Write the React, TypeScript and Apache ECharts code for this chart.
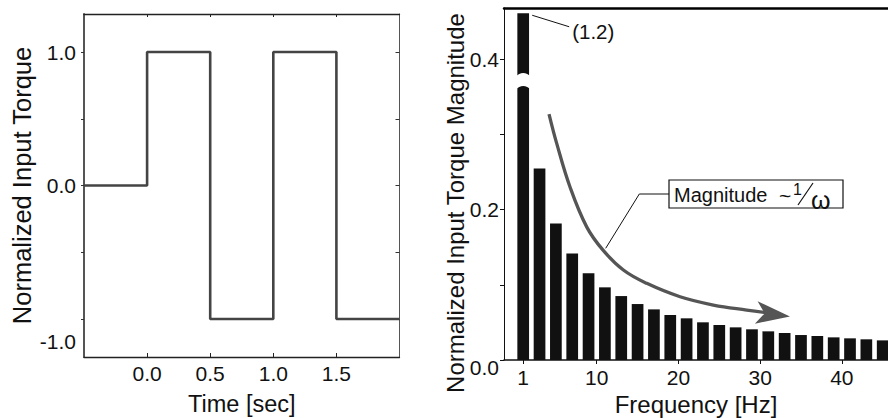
import React, { useEffect, useRef } from 'react';
import * as echarts from 'echarts';

// ---- Left panel: square-wave input torque ----
const timeSec = [-0.5, 0.0, 0.5, 1.0, 1.5, 2.0];
const torque = [0, 1, -1, 1, -1, -1];
const timeTicks = [0, 0.5, 1.0, 1.5];
const torqueTicks = [-1, -0.5, 0, 0.5, 1];
const torqueLabelPos = [1.0, 0.0, -1.17];
const torqueLabelText = ['1.0', '0.0', '-1.0'];

// ---- Right panel: spectrum magnitude ----
const freqHz = [1, 3, 5, 7, 9, 11, 13, 15, 17, 19, 21, 23, 25, 27, 29, 31, 33, 35, 37, 39, 41, 43, 45];
const magnitude = [1.2, 0.2547, 0.1816, 0.1417, 0.1152, 0.0966, 0.085, 0.0744, 0.0673, 0.0598, 0.0554, 0.0501,
  0.0465, 0.0434, 0.0408, 0.0381, 0.0359, 0.0332, 0.0319, 0.0301, 0.0288, 0.0275, 0.0261];
const magnitudeCap = 0.461; // drawn height of the broken first bar
const breakLevel = 0.369; // where the first bar is broken
const freqTicks = [1, 10, 20, 30, 40];
const magTicks = [0, 0.1, 0.2, 0.3, 0.4];
const magLabels = [0, 0.2, 0.4];
const trendX = [4.16, 5.1, 6.73, 8.77, 10.77, 13.26, 16.12, 20.2, 24.27, 28.36, 31.64];
const trendY = [0.327, 0.288, 0.23, 0.177, 0.146, 0.1196, 0.1019, 0.0841, 0.0731, 0.0664, 0.0618];
const arrowTip = [33.65, 0.0578];

const FONT = '"Liberation Sans", Arial, Helvetica, sans-serif';

export default function App() {
  const ref = useRef<HTMLDivElement>(null);
  useEffect(() => {
    if (!ref.current) return;
    const chart = echarts.init(ref.current, undefined, { renderer: 'svg' });
    const option: any = {
      animation: false,
      backgroundColor: '#fff',
      textStyle: { fontFamily: FONT },
      grid: [
        { left: 84, top: 14, width: 315.5, height: 343, outerBoundsMode: 'none', containLabel: false },
        { left: 504, top: 8, width: 384, height: 352, outerBoundsMode: 'none', containLabel: false },
      ],
      xAxis: [
        {
          type: 'value', gridIndex: 0, position: 'bottom', min: -0.5, max: 2.0,
          axisLine: { onZero: false, lineStyle: { color: '#222', width: 1.3 } },
          axisTick: { show: true, inside: true, length: 4, customValues: timeTicks, lineStyle: { color: '#222' } },
          axisLabel: { customValues: timeTicks, formatter: (v: number) => v.toFixed(1), fontSize: 21, color: '#111', margin: 6, fontFamily: FONT },
          splitLine: { show: false },
          name: 'Time [sec]', nameLocation: 'middle', nameGap: 35,
          nameTextStyle: { fontSize: 23.5, color: '#111', fontFamily: FONT },
        },
        {
          type: 'value', gridIndex: 0, position: 'top', min: -0.5, max: 2.0,
          axisLine: { onZero: false, lineStyle: { color: '#222', width: 1.3 } },
          axisTick: { show: true, inside: true, length: 3, customValues: timeTicks, lineStyle: { color: '#222' } },
          axisLabel: { show: false },
          splitLine: { show: false },
        },
        {
          type: 'value', gridIndex: 1, position: 'bottom', min: -1.35, max: 45.65,
          axisLine: { onZero: false, lineStyle: { color: '#111', width: 1.5 } },
          axisTick: { show: true, inside: false, length: 4, customValues: freqTicks, lineStyle: { color: '#111' } },
          axisLabel: { customValues: freqTicks, fontSize: 21, color: '#111', margin: 7, fontFamily: FONT },
          splitLine: { show: false },
          name: 'Frequency [Hz]', nameLocation: 'middle', nameGap: 27,
          nameTextStyle: { fontSize: 24, color: '#111', fontFamily: FONT },
        },
        {
          type: 'value', gridIndex: 1, position: 'top', min: -1.35, max: 45.65,
          axisLine: { onZero: false, lineStyle: { color: '#000', width: 2.5 } },
          axisTick: { show: false },
          axisLabel: { show: false },
          splitLine: { show: false },
        },
      ],
      yAxis: [
        {
          type: 'value', gridIndex: 0, position: 'left', min: -1.285, max: 1.285,
          axisLine: { show: true, onZero: false, lineStyle: { color: '#555', width: 2 } },
          axisTick: { show: true, inside: false, length: 3, customValues: torqueTicks, lineStyle: { color: '#333' } },
          axisLabel: {
            customValues: torqueLabelPos,
            formatter: (v: number) => {
              const i = torqueLabelPos.findIndex((p) => Math.abs(p - v) < 1e-6);
              return i >= 0 ? torqueLabelText[i] : '';
            },
            fontSize: 21, color: '#111', margin: 8, fontFamily: FONT,
          },
          splitLine: { show: false },
          name: 'Normalized Input Torque', nameLocation: 'middle', nameGap: 49,
          nameTextStyle: { fontSize: 25.5, color: '#111', fontFamily: FONT },
        },
        {
          type: 'value', gridIndex: 0, position: 'right', min: -1.285, max: 1.285,
          axisLine: { show: true, onZero: false, lineStyle: { color: '#555', width: 1 } },
          axisTick: { show: true, inside: true, length: 4, customValues: torqueTicks, lineStyle: { color: '#333' } },
          axisLabel: { show: false },
          splitLine: { show: false },
        },
        {
          type: 'value', gridIndex: 1, position: 'left', min: 0, max: 0.468,
          axisLine: { show: true, onZero: false, lineStyle: { color: '#111', width: 1 } },
          axisTick: { show: true, inside: false, length: 4, customValues: magTicks, lineStyle: { color: '#111' } },
          axisLabel: {
            customValues: magLabels,
            formatter: (v: number) => (v === 0 ? '{low|0.0}' : v.toFixed(1)),
            rich: { low: { padding: [14, 0, 0, 0], fontSize: 21, color: '#111', fontFamily: FONT } },
            fontSize: 21, color: '#111', margin: 5, fontFamily: FONT,
          },
          splitLine: { show: false },
        },
      ],
      graphic: [
        {
          type: 'text', x: 455, y: 203, rotation: Math.PI / 2,
          style: { text: 'Normalized Input Torque Magnitude', font: `24px ${FONT}`, fill: '#111', align: 'center', verticalAlign: 'middle' },
        },
        {
          type: 'polyline', shape: { points: [[669, 194], [639.3, 194], [605.7, 248.3]] },
          style: { stroke: '#111', lineWidth: 1, fill: 'none' }, z: 10,
        },
        {
          type: 'group', x: 669, y: 180, z: 10,
          children: [
            { type: 'rect', shape: { x: 0, y: 0, width: 174, height: 28 }, style: { fill: '#fff', stroke: '#111', lineWidth: 1.2 } },
            { type: 'text', x: 5, y: 14.5, style: { text: 'Magnitude', font: `20px ${FONT}`, fill: '#111', verticalAlign: 'middle' } },
            { type: 'text', x: 110, y: 15, style: { text: '~', font: `21px ${FONT}`, fill: '#111', verticalAlign: 'middle' } },
            { type: 'text', x: 124, y: 9.5, style: { text: '1', font: `16px ${FONT}`, fill: '#111', verticalAlign: 'middle' } },
            { type: 'line', shape: { x1: 129, y1: 25, x2: 144, y2: 3 }, style: { stroke: '#111', lineWidth: 1.2 } },
            { type: 'text', x: 142, y: 19.5, style: { text: 'ω', font: `25px ${FONT}`, fill: '#111', verticalAlign: 'middle' } },
          ],
        },
      ],
      series: [
        {
          type: 'line', xAxisIndex: 0, yAxisIndex: 0, step: 'end',
          data: timeSec.map((t, i) => [t, torque[i]]),
          symbol: 'none', lineStyle: { color: '#444', width: 2.6 },
        },
        {
          type: 'bar', xAxisIndex: 2, yAxisIndex: 2, barWidth: 11.7,
          data: freqHz.map((f, i) => [f, Math.min(magnitude[i], magnitudeCap)]),
          itemStyle: { color: '#111' },
        },
        {
          type: 'custom', xAxisIndex: 2, yAxisIndex: 2, z: 5,
          data: [[freqHz[0], breakLevel, magnitudeCap, magnitude[0]]],
          renderItem: (_params: any, api: any) => {
            const p = api.coord([api.value(0), api.value(1)]);
            const top = api.coord([api.value(0), api.value(2)]);
            const hw = 8;
            const x0 = p[0] - hw, x1 = p[0] + hw, y = p[1];
            const d = `M${x0} ${y - 5.5} Q${p[0]} ${y - 13.5} ${x1} ${y - 5.5} L${x1} ${y + 7.5} Q${p[0]} ${y - 0.5} ${x0} ${y + 7.5} Z`;
            return {
              type: 'group',
              children: [
                { type: 'path', shape: { pathData: d }, style: { fill: '#fff' } },
                { type: 'line', shape: { x1: top[0] + 9, y1: top[1] + 2, x2: top[0] + 46, y2: top[1] + 13.5 }, style: { stroke: '#111', lineWidth: 1 } },
                { type: 'text', x: top[0] + 49, y: top[1] + 18.5, style: { text: `(${api.value(3)})`, font: `20.5px ${FONT}`, fill: '#111', align: 'left', verticalAlign: 'middle' } },
              ],
            };
          },
        },
        {
          type: 'line', xAxisIndex: 2, yAxisIndex: 2, smooth: 0.4, z: 4,
          symbol: 'none',
          data: trendX.map((x, i) => [x, trendY[i]]),
          lineStyle: { color: '#555', width: 3.3 },
        },
        {
          type: 'scatter', xAxisIndex: 2, yAxisIndex: 2, z: 4,
          data: [arrowTip],
          symbol: 'arrow', symbolSize: [17, 34], symbolRotate: -97,
          itemStyle: { color: '#555', opacity: 1 },
        },
      ],
    };
    chart.setOption(option);
    return () => chart.dispose();
  }, []);
  return <div ref={ref} style={{ position: 'fixed', left: 0, top: 0, width: 888, height: 418 }} />;
}
